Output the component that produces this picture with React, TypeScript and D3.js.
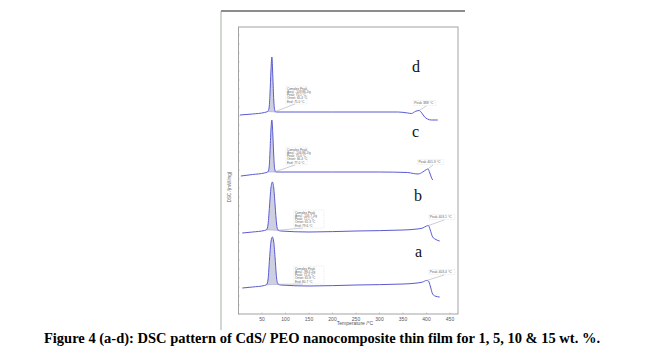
import React from 'react';
import * as d3 from 'd3';

const W = 645;
const H = 355;

// x axis ticks (°C)
const xTicks = [50, 100, 150, 200, 250, 300, 350, 400, 450];

// curve d (15 wt.%)
const tempD = [3, 30, 55, 62, 65, 67, 69, 71, 73, 75, 77, 80, 120, 200, 280, 340, 360, 368, 376, 384, 390, 396, 402, 410, 424];
const dscD = [199, 200, 201.5, 202.5, 206, 220, 243, 257, 238, 214, 204, 202, 202, 202, 202, 202, 201, 200.5, 202.5, 203.5, 201, 197, 195, 194, 194];
// curve c (10 wt.%)
const tempC = [5, 30, 55, 62, 65, 67, 69, 71, 73, 75, 77, 80, 120, 200, 300, 360, 372, 382, 392, 400, 403, 407, 410, 413];
const dscC = [138, 139.5, 141, 142, 146, 162, 184, 194, 180, 158, 145, 142, 142, 142, 142, 141.5, 140.5, 140, 142, 144.5, 145, 141, 137, 134];
// curve b (5 wt.%)
const tempB = [8, 30, 55, 60, 63, 66, 69, 72, 75, 78, 81, 84, 90, 150, 250, 350, 380, 392, 400, 404, 408, 413, 418, 428];
const dscB = [81, 82, 83.5, 84.5, 90, 108, 126, 132, 126, 108, 90, 84, 83, 82, 83, 84, 85, 86, 88, 88.5, 84, 77, 75, 73];
// curve a (1 wt.%)
const tempA = [8, 30, 55, 60, 63, 66, 69, 72, 75, 78, 81, 84, 90, 150, 250, 350, 380, 392, 400, 404, 408, 413, 418, 428];
const dscA = [26, 27, 28.5, 29.5, 35, 55, 72, 77, 72, 55, 36, 30, 29, 28, 29, 30, 31, 32, 33.5, 33, 28, 20, 18, 17];

const curveNames = ['d', 'c', 'b', 'a'];
const peakRanges = [[62, 80], [62, 80], [58, 86], [58, 86]];
const meltInfo = [
  ['Complex Peak', 'Area:   -109.86 J/g', 'Peak:    70.1 °C', 'Onset:  65.4 °C', 'End:    75.0 °C'],
  ['Complex Peak', 'Area:   -106.86 J/g', 'Peak:    70.0 °C', 'Onset:  66.4 °C', 'End:    77.0 °C'],
  ['Complex Peak', 'Area:   -103.7 J/g', 'Peak:    72.1 °C', 'Onset:  65.3 °C', 'End:    79.6 °C'],
  ['Complex Peak', 'Area:   -98.4 J/g', 'Peak:    72.4 °C', 'Onset:  65.8 °C', 'End:    80.7 °C'],
];
const peakLabels = ['Peak 388 °C', 'Peak 401.3 °C', 'Peak 403.1 °C', 'Peak 403.4 °C'];
const bumpTemps = [384, 403, 404, 400];
// annotation anchors in data units [T, value]
const boxAnchors = [[103, 227], [103, 166], [120, 103], [120, 47]];
const labelAnchors = [[374, 210], [383, 151], [407, 96], [407, 41]];

const CAPTION = 'Figure 4 (a-d): DSC pattern of CdS/ PEO nanocomposite thin film for 1, 5, 10 & 15 wt. %.';

export default function App() {
  const x = d3.scaleLinear().domain([0, 467]).range([238.5, 458]);
  const y = d3.scaleLinear().domain([0, 287]).range([314, 27]);
  const series = [
    [tempD, dscD], [tempC, dscC], [tempB, dscB], [tempA, dscA],
  ];
  const line = d3.line<[number, number]>().x(d => x(d[0])).y(d => y(d[1])).curve(d3.curveMonotoneX);
  const lineColor = '#5a5ad2';
  const interp = (ts: number[], vs: number[], t: number) => {
    for (let i = 0; i < ts.length - 1; i++) {
      if (t >= ts[i] && t <= ts[i + 1]) {
        const f = (t - ts[i]) / (ts[i + 1] - ts[i]);
        return vs[i] + f * (vs[i + 1] - vs[i]);
      }
    }
    return vs[vs.length - 1];
  };

  return (
    <svg width={W} height={H} style={{ position: 'absolute', left: 0, top: 0, background: '#fff' }}>
      <rect x={0} y={0} width={W} height={H} fill="#fff" />
      {/* outer frame */}
      <line x1={221} x2={465} y1={11} y2={11} stroke="#8c8c8c" strokeWidth={2} />
      <line x1={221} x2={221} y1={11} y2={330} stroke="#8a9a8a" strokeWidth={0.8} />
      {/* plot box */}
      <rect x={x(0)} y={y(287)} width={x(467) - x(0)} height={y(0) - y(287)} fill="none" stroke="#999" strokeWidth={0.9} />
      {/* left ticks */}
      {d3.range(0, 287, 9).map(v => (
        <line key={'lt' + v} x1={x(0)} x2={x(0) + 1.5} y1={y(v)} y2={y(v)} stroke="#bbb" strokeWidth={0.5} />
      ))}
      {/* x ticks */}
      {xTicks.map(t => (
        <g key={'xt' + t}>
          <line x1={x(t)} x2={x(t)} y1={y(0)} y2={y(0) - 1.5} stroke="#999" strokeWidth={0.5} />
          <text x={x(t)} y={y(0) + 6.5} fontSize={5} fontFamily="Liberation Sans, Arial" textAnchor="middle" fill="#555">{t}</text>
        </g>
      ))}
      <text x={355} y={325} fontSize={5} fontFamily="Liberation Sans, Arial" textAnchor="middle" fill="#555">Temperature /°C</text>
      <text transform={`translate(231,187) rotate(-90)`} fontSize={4.5} fontFamily="Liberation Sans, Arial" textAnchor="middle" fill="#666">DSC /(mW/mg)</text>

      {series.map(([ts, vs], i) => {
        const pts: [number, number][] = ts.map((t, k) => [t, vs[k]]);
        const [p0, p1] = peakRanges[i];
        const v0 = interp(ts, vs, p0);
        const v1 = interp(ts, vs, p1);
        const peakPts: [number, number][] = [[p0, v0], ...pts.filter(p => p[0] > p0 && p[0] < p1), [p1, v1]];
        const area = d3.area<[number, number]>()
          .x(d => x(d[0]))
          .y1(d => y(d[1]))
          .y0(d => y(v0 + (d[0] - p0) / (p1 - p0) * (v1 - v0)))
          .curve(d3.curveMonotoneX);
        const [bt, bv] = boxAnchors[i];
        const [lt, lv] = labelAnchors[i];
        const bumpT = bumpTemps[i];
        const bumpV = interp(ts, vs, bumpT);
        const boxW = i < 2 ? 21 : 30;
        const lineH = 3.2;
        const boxTop = y(bv);
        const boxBottom = boxTop + lineH * 5 + 1;
        const lw = peakLabels[i].length * 1.85;
        return (
          <g key={curveNames[i]}>
            <path d={area(peakPts) || ''} fill="#cfcfe2" stroke="none" />
            <line x1={x(p0)} y1={y(v0)} x2={x(p1)} y2={y(v1)} stroke="#9a9ac8" strokeWidth={0.5} />
            <path d={line(pts) || ''} fill="none" stroke={lineColor} strokeWidth={1} />
            {/* melting peak annotation */}
            <line x1={x(p1) - 2} y1={y(v1)} x2={x(bt) + 8} y2={boxBottom} stroke="#9a9ab8" strokeWidth={0.5} />
            <rect x={x(bt) - 1} y={boxTop - 1} width={boxW} height={boxBottom - boxTop + 1} fill="none" stroke="#ccc" strokeWidth={0.4} strokeDasharray="0.8,0.8" />
            {meltInfo[i].map((s, k) => (
              <text key={k} x={x(bt)} y={boxTop + lineH * (k + 1) - 0.4} fontSize={3.1} fontFamily="Liberation Sans, Arial" fill="#666">{s}</text>
            ))}
            {/* decomposition peak label */}
            <line x1={x(bumpT)} y1={y(bumpV)} x2={x(lt) + lw * 0.6} y2={y(lv) + 2} stroke="#9a9ab8" strokeWidth={0.5} />
            <rect x={x(lt) - 1} y={y(lv) - 3.5} width={lw + 2} height={5} fill="none" stroke="#ccc" strokeWidth={0.4} strokeDasharray="0.8,0.8" />
            <text x={x(lt)} y={y(lv)} fontSize={3.4} fontFamily="Liberation Sans, Arial" fill="#666">{peakLabels[i]}</text>
          </g>
        );
      })}

      {/* sample letters */}
      <text x={412} y={72} fontSize={16} fontFamily="Liberation Serif, Times New Roman, serif" fill="#111">d</text>
      <text x={412} y={137} fontSize={16} fontFamily="Liberation Serif, Times New Roman, serif" fill="#111">c</text>
      <text x={414} y={201} fontSize={16} fontFamily="Liberation Serif, Times New Roman, serif" fill="#111">b</text>
      <text x={415} y={257} fontSize={16} fontFamily="Liberation Serif, Times New Roman, serif" fill="#111">a</text>

      <text x={322} y={343} fontSize={14.5} fontWeight="bold" fontFamily="Liberation Serif, Times New Roman, serif" textAnchor="middle" fill="#000">{CAPTION}</text>
    </svg>
  );
}
